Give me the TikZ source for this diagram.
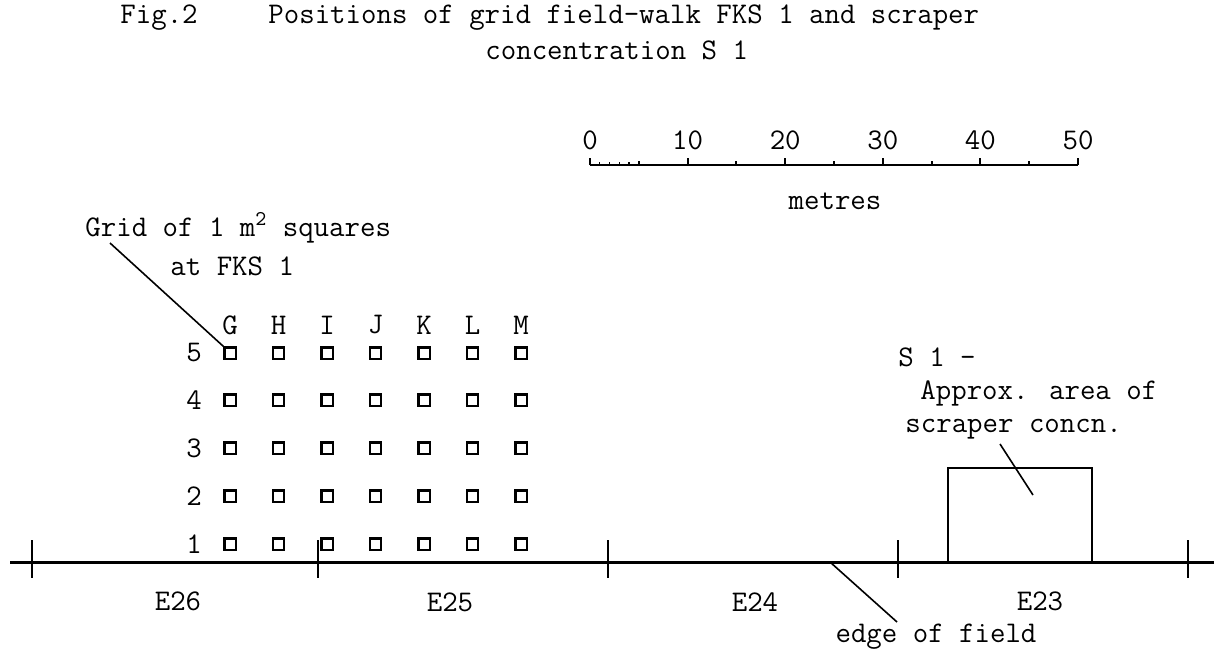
\documentclass[tikz,border=0pt]{standalone}
\usepackage{fontspec}
\begin{document}
\begin{tikzpicture}[x=0.5pt,y=-0.5pt,
  txt/.style={font=\ttfamily\fontsize{15}{17}\selectfont, inner sep=0pt},
  sq/.style={draw, line width=1.1pt, minimum size=5.6pt, inner sep=0pt},
  base/.style={line width=1.5pt},
  tick/.style={line width=1pt},
  leader/.style={line width=0.8pt}]
\useasboundingbox (0,0) rectangle (1214,654);
% title
\node[txt, anchor=west] (fig) at (120,18) {Fig.2};
\node[txt, anchor=west] (t1) at (268,18) {Positions of grid field-walk FKS 1 and scraper};
\node[txt, anchor=west] (t2) at (485,50) {concentration S 1};
% scale bar
\coordinate (s0) at (590,165);
\coordinate (s50) at (1078,165);
\draw[tick] (s0) -- (s50);
\foreach \i in {0,...,10}{
  \pgfmathsetmacro{\xx}{590+\i*48.8}
  \draw[tick] (\xx,165) -- (\xx,{165-(mod(\i,2)==0?7:4)});
}
\foreach \i in {1,...,4}{
  \pgfmathsetmacro{\xx}{590+\i*9.76}
  \draw[line width=0.7pt] (\xx,165) -- (\xx,162);
}
\foreach \n [count=\k from 0] in {0,10,20,30,40,50}{
  \node[txt] (n\n) at ({590+\k*97.6},140) {\n};
}
\node[txt] (metres) at (835,201) {metres};
% grid label
\node[txt, anchor=west] (gl1) at (85,228) {Grid of 1 m\textsuperscript{2} squares};
\node[txt, anchor=west] (gl2) at (170,266) {at FKS 1};
% grid
\foreach \c [count=\k from 0] in {G,H,I,J,K,L,M}{
  \node[txt] (col\c) at ({230+\k*48.5},325) {\c};
  \foreach \r/\yy in {5/353,4/400,3/448,2/496,1/544}{
    \node[sq] (q\c\r) at ({230+\k*48.5},\yy) {};
  }
}
\foreach \r/\yy in {5/353,4/400,3/448,2/496,1/544}{
  \node[txt] (row\r) at (194,\yy) {\r};
}
\coordinate (gla) at (110,243);
\draw[leader] (gla) -- (qG5.north west);
% base line and ticks
\coordinate (bl) at (10,562);
\coordinate (br) at (1214,562);
\draw[base] (bl) -- (br);
\foreach \xx/\nm in {32/a,318/b,608/c,898/d,1188/e}{
  \coordinate (tk\nm) at (\xx,562);
  \draw[tick] (\xx,540) -- (\xx,578);
}
\node[txt] (e26) at (178,601) {E26};
\node[txt] (e25) at (450,602) {E25};
\node[txt] (e24) at (755,602) {E24};
\node[txt] (e23) at (1040,601) {E23};
% scraper area
\coordinate (r1) at (948,562);
\coordinate (r2) at (1092,468);
\draw[line width=1pt] (r1) |- (r2) -- (1092,562);
\coordinate (rc) at (1033,495);
\node[txt, anchor=west] (s1) at (898,357) {S 1 -};
\node[txt, anchor=west] (s2) at (920,393) {Approx. area of};
\node[txt, anchor=west] (s3) at (905,429) {scraper concn.};
\draw[leader] (1000,444) -- (rc);
% edge of field
\node[txt] (edge) at (936,637) {edge of field};
\coordinate (ef) at (830,562);
\draw[leader] (ef) -- (897,622);
\end{tikzpicture}
\end{document}
